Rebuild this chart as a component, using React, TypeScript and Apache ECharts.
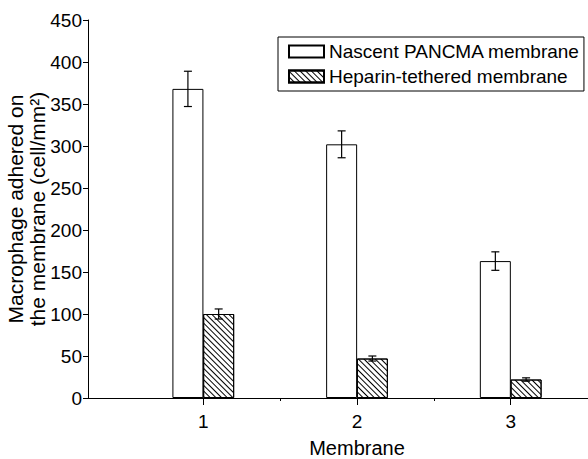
import React, { useEffect, useRef } from "react";
import * as echarts from "echarts";

const groups = [1, 2, 3];
const nascentValues = [368, 302, 163];
const nascentErrors = [21, 16, 11];
const heparinValues = [100, 47, 22];
const heparinErrors = [6, 3, 2];
const majorTicks = [1, 2, 3];
const minorTicks = [1.5, 2.5];
const seriesNames = ["Nascent PANCMA membrane", "Heparin-tethered membrane"];
const xTitle = "Membrane";
const yTitle = "Macrophage adhered on\nthe membrane (cell/mm²)";

const FONT = "Liberation Sans, Arial, sans-serif";
const OFFSET = 0.1;

export default function App() {
  const ref = useRef<HTMLDivElement>(null);
  useEffect(() => {
    if (!ref.current) return;
    const chart = echarts.init(ref.current, null, { renderer: "svg" });
    const hatch = {
      symbol: "rect",
      symbolSize: 1,
      dashArrayX: [1, 0],
      dashArrayY: [1, 3],
      rotation: Math.PI / 4,
      color: "#000",
    };
    const errorSeries = (name: string, xs: number[], vals: number[], errs: number[]) => ({
      type: "custom",
      name: name + " err",
      coordinateSystem: "cartesian2d",
      xAxisIndex: 0,
      yAxisIndex: 0,
      z: 10,
      silent: true,
      encode: { x: 0, y: 1 },
      data: xs.map((x, i) => [x, vals[i], errs[i]]),
      renderItem: (params: any, api: any) => {
        const x = api.value(0);
        const v = api.value(1);
        const e = api.value(2);
        const top = api.coord([x, v + e]);
        const bot = api.coord([x, v - e]);
        const hw = 4;
        const st = { stroke: "#000", lineWidth: 1.2 };
        return {
          type: "group",
          children: [
            { type: "line", shape: { x1: top[0], y1: top[1], x2: bot[0], y2: bot[1] }, style: st },
            { type: "line", shape: { x1: top[0] - hw, y1: top[1], x2: top[0] + hw, y2: top[1] }, style: st },
            { type: "line", shape: { x1: bot[0] - hw, y1: bot[1], x2: bot[0] + hw, y2: bot[1] }, style: st },
          ],
        };
      },
    });
    const nxs = groups.map((g) => g - OFFSET);
    const hxs = groups.map((g) => g + OFFSET);
    chart.setOption({
      animation: false,
      backgroundColor: "#fff",
      textStyle: { fontFamily: FONT, color: "#000" },
      grid: { left: 88, top: 20, bottom: 61, right: -38, containLabel: false, outerBoundsMode: "none" },
      legend: {
        data: seriesNames.map((n) => ({ name: n, icon: "rect" })),
        orient: "vertical",
        left: 278,
        top: 37,
        borderColor: "#000",
        borderWidth: 1,
        padding: [5, 4, 5, 10],
        itemGap: 6,
        itemWidth: 35,
        itemHeight: 12,
        textStyle: { fontFamily: FONT, fontSize: 19, color: "#000" },
      },
      xAxis: [
        {
          type: "value",
          min: 0.25,
          max: 3.75,
          name: xTitle,
          nameLocation: "middle",
          nameGap: 40,
          nameMoveOverlap: false,
          nameTextStyle: { fontFamily: FONT, fontSize: 20, color: "#000" },
          axisLine: { show: true, lineStyle: { color: "#000", width: 1 } },
          axisTick: { show: true, length: 7, customValues: majorTicks, lineStyle: { color: "#000" } },
          axisLabel: { customValues: majorTicks, margin: 14, fontSize: 19, color: "#000", fontFamily: FONT },
          splitLine: { show: false },
        },
        {
          type: "value",
          min: 0.25,
          max: 3.75,
          position: "bottom",
          axisLine: { show: false },
          axisTick: { show: true, length: 3, customValues: minorTicks, lineStyle: { color: "#000" } },
          axisLabel: { show: false },
          splitLine: { show: false },
        },
      ],
      yAxis: {
        type: "value",
        min: 0,
        max: 450,
        interval: 50,
        name: yTitle,
        nameLocation: "middle",
        nameGap: 40,
        nameMoveOverlap: false,
        nameTextStyle: { fontFamily: FONT, fontSize: 21, color: "#000", lineHeight: 22 },
        axisLine: { show: true, lineStyle: { color: "#000", width: 1 } },
        axisTick: { show: true, length: 5, lineStyle: { color: "#000" } },
        axisLabel: { margin: 6, fontSize: 19, color: "#000", fontFamily: FONT },
        splitLine: { show: false },
      },
      series: [
        {
          type: "bar",
          name: seriesNames[0],
          xAxisIndex: 0,
          barWidth: 31,
          barGap: "-100%",
          data: nxs.map((x, i) => [x, nascentValues[i]]),
          itemStyle: { color: "#fff", borderColor: "#000", borderWidth: 1 },
        },
        {
          type: "bar",
          name: seriesNames[1],
          xAxisIndex: 0,
          barWidth: 31,
          barGap: "-100%",
          data: hxs.map((x, i) => [x, heparinValues[i]]),
          itemStyle: { color: "#fff", borderColor: "#000", borderWidth: 1, decal: hatch },
        },
        errorSeries(seriesNames[0], nxs, nascentValues, nascentErrors),
        errorSeries(seriesNames[1], hxs, heparinValues, heparinErrors),
      ],
    });
    return () => chart.dispose();
  }, []);
  return (
    <div
      ref={ref}
      style={{ position: "fixed", left: 0, top: 0, width: 588, height: 459, background: "#fff" }}
    />
  );
}
